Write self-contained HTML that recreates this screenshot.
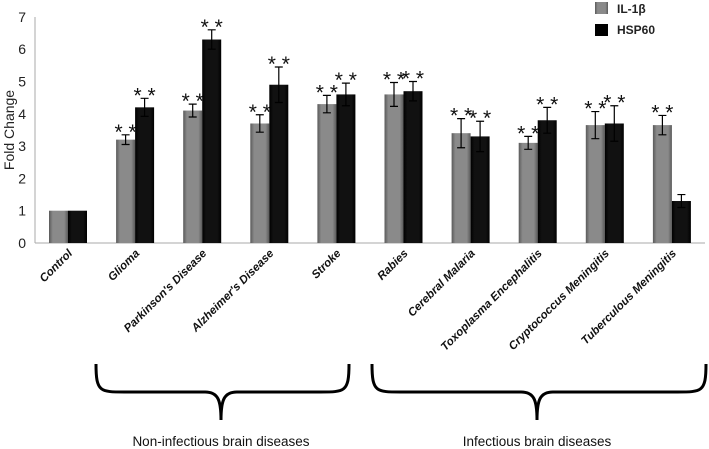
<!DOCTYPE html>
<html><head><meta charset="utf-8"><style>
body{margin:0;background:#fff;}
svg{display:block;font-family:"Liberation Sans",sans-serif;}
</style></head><body>
<svg id="c" width="709" height="449" viewBox="0 0 709 449">
<defs>
<linearGradient id="gg" x1="0" x2="1" y1="0" y2="0"><stop offset="0" stop-color="#5a5a5a"/><stop offset="0.2" stop-color="#8a8a8a"/><stop offset="0.8" stop-color="#8a8a8a"/><stop offset="1" stop-color="#5a5a5a"/></linearGradient>
<linearGradient id="gb" x1="0" x2="1" y1="0" y2="0"><stop offset="0" stop-color="#000"/><stop offset="0.2" stop-color="#111"/><stop offset="0.8" stop-color="#111"/><stop offset="1" stop-color="#000"/></linearGradient>
</defs>
<g id="axes"></g><g id="bars"></g><g id="labels"></g>
<g>
<rect x="595" y="2" width="13" height="12" fill="url(#gg)"/>
<text x="617" y="13" font-size="12" font-weight="bold" fill="#222">IL-1β</text>
<rect x="595" y="24" width="13" height="12" fill="#000"/>
<text x="617" y="34" font-size="12" font-weight="bold" fill="#222">HSP60</text>
</g>
<text transform="translate(14,130) rotate(-90)" text-anchor="middle" font-size="14" fill="#222">Fold Change</text>
<path d="M96,364 C96,392 100,392 125,392 L205,392 C218,392 221,400 221,420 C221,400 224,392 237,392 L320,392 C345,392 349,392 349,364" fill="none" stroke="#000" stroke-width="3"/>
<path d="M372,364 C372,392 376,392 401,392 L521,392 C534,392 537,400 537,420 C537,400 540,392 553,392 L677,392 C702,392 706,392 706,364" fill="none" stroke="#000" stroke-width="3"/>
<text x="221" y="446" text-anchor="middle" font-size="13.5" fill="#111">Non-infectious brain diseases</text>
<text x="537" y="446" text-anchor="middle" font-size="13.5" fill="#111">Infectious brain diseases</text>
</svg>
<script>
const categories=["Control","Glioma","Parkinson's Disease","Alzheimer's Disease","Stroke","Rabies","Cerebral Malaria","Toxoplasma Encephalitis","Cryptococcus Meningitis","Tuberculous Meningitis"];
const il1b=[1,3.2,4.1,3.7,4.3,4.6,3.4,3.1,3.65,3.65];
const il1bErr=[0,0.15,0.2,0.27,0.27,0.37,0.45,0.2,0.42,0.3];
const hsp60=[1,4.2,6.3,4.9,4.6,4.7,3.3,3.8,3.7,1.3];
const hsp60Err=[0,0.28,0.3,0.55,0.35,0.3,0.47,0.4,0.55,0.2];
const sig1=[false,true,true,true,true,true,true,true,true,true];
const sig2=[false,true,true,true,true,true,true,true,true,false];
const yTicks=[0,1,2,3,4,5,6,7];
const NS="http://www.w3.org/2000/svg";
const y=v=>243-v*32.3;
const xc=i=>68+i*67.1;
function mk(t,a,p){const e=document.createElementNS(NS,t);for(const k in a)e.setAttribute(k,a[k]);p.appendChild(e);return e;}
const ax=document.getElementById('axes'),bg=document.getElementById('bars'),lg=document.getElementById('labels');
let l=mk('line',{x1:35,y1:17,x2:35,y2:243,stroke:'#aaa'},ax);


l=mk('line',{x1:35,y1:243,x2:705,y2:243,stroke:'#aaa'},ax);


yTicks.forEach(t=>{const e=mk('text',{x:26,y:y(t)+5,'text-anchor':'end','font-size':14,fill:'#222'},ax);e.textContent=t;

});
function bar(x,v,err,sig,fill,name){
 const r=mk('rect',{x:x,y:y(v),width:19,height:243-y(v),fill:fill},bg);
 
 
 if(err>0){const cx=x+9.5;
  const e=mk('path',{d:`M${cx},${y(v-err)}V${y(v+err)}M${cx-4},${y(v+err)}H${cx+4}M${cx-4},${y(v-err)}H${cx+4}`,stroke:'#000','stroke-width':1.2,fill:'none'},bg);
  
  }
 if(sig){const s=mk('text',{x:x+9.5,y:y(v+err)+4,'text-anchor':'middle','font-size':21,fill:'#111'},bg);s.textContent='* *';
  
  }
}
categories.forEach((c,i)=>{
 bar(xc(i)-19,il1b[i],il1bErr[i],sig1[i],'url(#gg)','bar-il1b');
 bar(xc(i),hsp60[i],hsp60Err[i],sig2[i],'url(#gb)','bar-hsp60');
 const t=mk('text',{transform:`translate(${xc(i)+5},254) rotate(-45)`,'text-anchor':'end','font-size':11.5,'font-weight':'bold','font-style':'italic',fill:'#111'},lg);
 t.textContent=c;
 
 
});
</script>
</body></html>
